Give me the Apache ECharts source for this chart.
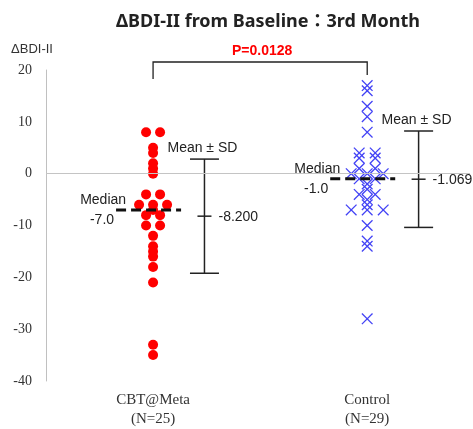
<!DOCTYPE html>
<html>
<head>
<meta charset="utf-8">
<script src="https://cdn.jsdelivr.net/npm/echarts@6/dist/echarts.min.js"></script>
<style>
  html, body { margin: 0; padding: 0; background: #fff; }
  #chart { width: 473px; height: 429px; }
</style>
</head>
<body>
<div id="chart"></div>
<script>
// ---------------- data ----------------
const categories = ['CBT@Meta', 'Control'];
const sampleLabels = ['(N=25)', '(N=29)'];
const cbtValues = [8, 8, 5, 4, 2, 1, 0, -4, -4, -6, -6, -6, -7, -8, -8, -10, -10, -12, -14, -15, -16, -18, -21, -33, -35];
const controlValues = [17, 16, 13, 11, 8, 4, 4, 3, 3, 1, 1, 0, 0, 0, -1, -1, -2, -3, -4, -4, -5, -6, -7, -7, -7, -10, -13, -14, -28];
const yTicks = [20, 10, 0, -10, -20, -30, -40];
const pValueText = 'P=0.0128';
const titleText = 'ΔBDI-II from Baseline：3rd Month';
const yAxisName = 'ΔBDI-II';

// ---------------- layout constants ----------------
const GROUP_X = [1, 3];
const BAR_SHIFT = 0.48;
const X_MAX = 3.96;
const SANS = '"Liberation Sans", Arial, sans-serif';
const SERIF = '"Liberation Serif", "DejaVu Serif", serif';

// ---------------- stats ----------------
function mean(a) { return a.reduce((s, v) => s + v, 0) / a.length; }
function sd(a) { const m = mean(a); return Math.sqrt(a.reduce((s, v) => s + (v - m) * (v - m), 0) / (a.length - 1)); }
function median(a) { const s = [...a].sort((x, y) => x - y); const n = s.length; return n % 2 ? s[(n - 1) / 2] : (s[n / 2 - 1] + s[n / 2]) / 2; }
function slots(a) {
  const count = {}, seen = {};
  a.forEach(v => { count[v] = (count[v] || 0) + 1; });
  return a.map(v => { const i = seen[v] || 0; seen[v] = i + 1; return i - (count[v] - 1) / 2; });
}
const groups = [cbtValues, controlValues];
const stats = groups.map(g => ({ mean: mean(g), sd: sd(g), median: median(g) }));

const cbtSlots = slots(cbtValues), ctlSlots = slots(controlValues);
const cbtData = cbtValues.map((v, i) => [GROUP_X[0], v, cbtSlots[i]]);
const ctlData = controlValues.map((v, i) => [GROUP_X[1], v, ctlSlots[i]]);

const chart = echarts.init(document.getElementById('chart'), null, { renderer: 'canvas' });

const option = {
  animation: false,
  backgroundColor: '#ffffff',
  title: {
    text: titleText,
    left: 111, top: 8,
    textStyle: { fontFamily: '"Noto Sans", "Noto Sans CJK JP", sans-serif', fontSize: 18, fontWeight: 'bold', color: '#222' }
  },
  grid: { left: 46, right: 3, top: 70, bottom: 44 },
  xAxis: {
    type: 'value', min: 0, max: X_MAX,
    axisLine: { show: false }, axisTick: { show: false }, splitLine: { show: false },
    axisLabel: {
      customValues: GROUP_X,
      margin: 10,
      fontFamily: SERIF, fontSize: 15, lineHeight: 19, color: '#333',
      formatter: v => { const i = GROUP_X.indexOf(v); return i < 0 ? '' : categories[i] + '\n' + sampleLabels[i]; }
    }
  },
  yAxis: {
    type: 'value', min: yTicks[yTicks.length - 1], max: yTicks[0], interval: 10,
    name: yAxisName, nameLocation: 'end', nameGap: 14,
    nameTextStyle: { fontFamily: SANS, fontSize: 13, color: '#333', padding: [0, 28, 0, 0] },
    axisLine: { show: true, lineStyle: { color: '#c0c0c0', width: 1 } },
    axisTick: { show: false }, splitLine: { show: false },
    axisLabel: { fontFamily: SERIF, fontSize: 14, color: '#333', margin: 14 }
  },
  series: [
    {
      type: 'custom', name: 'zero', silent: true, data: [],
      renderItem: () => null,
      markLine: {
        silent: true, symbol: 'none', label: { show: false },
        lineStyle: { color: '#c4c4c4', type: 'solid', width: 1 },
        data: [{ yAxis: 0 }]
      }
    },
    {
      type: 'custom', name: categories[0], data: cbtData,
      renderItem: (params, api) => {
        const p = api.coord([api.value(0), api.value(1)]);
        return { type: 'circle', shape: { cx: p[0] + api.value(2) * 14, cy: p[1], r: 5 }, style: { fill: '#ff0000' } };
      }
    },
    {
      type: 'custom', name: categories[1], data: ctlData,
      renderItem: (params, api) => {
        const p = api.coord([api.value(0), api.value(1)]);
        const x = p[0] + api.value(2) * 16, y = p[1], h = 5.3;
        return {
          type: 'group', children: [
            { type: 'line', shape: { x1: x - h, y1: y - h, x2: x + h, y2: y + h }, style: { stroke: '#4242f5', lineWidth: 1.3 } },
            { type: 'line', shape: { x1: x - h, y1: y + h, x2: x + h, y2: y - h }, style: { stroke: '#4242f5', lineWidth: 1.3 } }
          ]
        };
      }
    },
    {
      type: 'custom', name: 'median', silent: true,
      data: stats.map((s, i) => [GROUP_X[i], s.median]),
      renderItem: (params, api) => {
        const p = api.coord([api.value(0), api.value(1)]);
        const x1 = p[0] - 37, x2 = p[0] + 28, y = p[1];
        return {
          type: 'group', children: [
            { type: 'line', shape: { x1: x1, y1: y, x2: x2, y2: y }, style: { stroke: '#111', lineWidth: 3, lineDash: [10, 5] } },
            { type: 'text', style: { text: 'Median', x: x1 + 10, y: y - 10, align: 'right', verticalAlign: 'middle', fontFamily: SANS, fontSize: 14, fill: '#222' } },
            { type: 'text', style: { text: api.value(1).toFixed(1), x: x1 - 2, y: y + 10, align: 'right', verticalAlign: 'middle', fontFamily: SANS, fontSize: 14, fill: '#222' } }
          ]
        };
      }
    },
    {
      type: 'custom', name: 'meanSD', silent: true,
      data: stats.map((s, i) => [GROUP_X[i] + BAR_SHIFT, s.mean, s.sd]),
      renderItem: (params, api) => {
        const xv = api.value(0), m = api.value(1), s = api.value(2);
        const t = api.coord([xv, m + s]), b = api.coord([xv, m - s]), c = api.coord([xv, m]);
        const x = c[0], st = { stroke: '#222', lineWidth: 1.5 };
        return {
          type: 'group', children: [
            { type: 'line', shape: { x1: x, y1: t[1], x2: x, y2: b[1] }, style: st },
            { type: 'line', shape: { x1: x - 14.5, y1: t[1], x2: x + 14.5, y2: t[1] }, style: st },
            { type: 'line', shape: { x1: x - 14.5, y1: b[1], x2: x + 14.5, y2: b[1] }, style: st },
            { type: 'line', shape: { x1: x - 7, y1: c[1], x2: x + 7, y2: c[1] }, style: st },
            { type: 'text', style: { text: 'Mean ± SD', x: x - 37, y: t[1] - 11, align: 'left', verticalAlign: 'middle', fontFamily: SANS, fontSize: 14, fill: '#222' } },
            { type: 'text', style: { text: m.toFixed(3), x: x + 14, y: c[1] + 1, align: 'left', verticalAlign: 'middle', fontFamily: SANS, fontSize: 14, fill: '#222' } }
          ]
        };
      }
    },
    {
      type: 'custom', name: 'pvalue', silent: true,
      data: [[GROUP_X[0], GROUP_X[1], yTicks[0]]],
      renderItem: (params, api) => {
        const a = api.coord([api.value(0), api.value(2)]), b = api.coord([api.value(1), api.value(2)]);
        const y = a[1] - 8, st = { stroke: '#222', lineWidth: 1.3 };
        return {
          type: 'group', children: [
            { type: 'polyline', shape: { points: [[a[0], y + 17], [a[0], y], [b[0], y], [b[0], y + 13]] }, style: Object.assign({ fill: null }, st) },
            { type: 'text', style: { text: pValueText, x: (a[0] + b[0]) / 2 + 2, y: y - 11, align: 'center', verticalAlign: 'middle', fontFamily: SANS, fontSize: 14, fontWeight: 'bold', fill: '#ff0000' } }
          ]
        };
      }
    }
  ]
};
chart.setOption(option);
</script>
</body>
</html>
